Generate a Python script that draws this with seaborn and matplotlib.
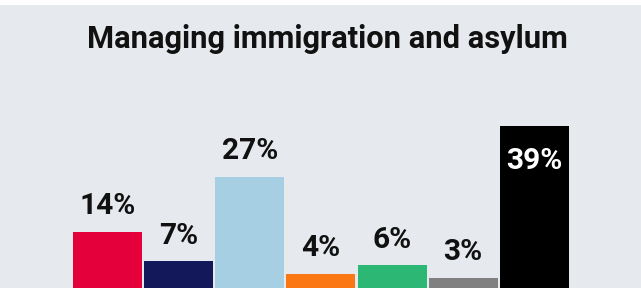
import matplotlib
matplotlib.use("Agg")
import matplotlib.pyplot as plt
import seaborn as sns
import pandas as pd
from matplotlib.patches import Rectangle

title = "Managing immigration and asylum"
categories = ["A", "B", "C", "D", "E", "F", "G"]
values = [14, 7, 27, 4, 6, 3, 39]
labels = ["14%", "7%", "27%", "4%", "6%", "3%", "39%"]
colors = ["#e4003b", "#12185a", "#a7cfe3", "#fa7714", "#2db774", "#808080", "#000000"]

bg = "#e6e9ee"
sns.set_theme(style="white")
plt.rcParams["font.family"] = ["Roboto", "DejaVu Sans"]

W, H = 641, 288
fig = plt.figure(figsize=(W / 100, H / 100), dpi=100, facecolor=bg)
fig.patches.append(Rectangle((0, 1 - 5 / H), 1, 5 / H, transform=fig.transFigure,
                             facecolor="white", edgecolor="none", zorder=-1))

ax_left = 71.9 / W
ax_w = 498 / W
ax_bottom = -2.7 / H
ax_h = 60 * 4.22 / H
ax = fig.add_axes([ax_left, ax_bottom, ax_w, ax_h])
ax.set_facecolor(bg)

df = pd.DataFrame({"cat": categories, "val": values})
sns.barplot(data=df, x="cat", y="val", hue="cat", palette=colors, legend=False,
            width=0.97, linewidth=0, saturation=1, ax=ax)
ax.set_xlim(-0.5, 6.5)
ax.set_ylim(0, 60)
ax.axis("off")

for i, (v, lab) in enumerate(zip(values, labels)):
    if i == len(values) - 1:
        ax.annotate(lab, (i, v), xytext=(0, -31.2), textcoords="offset points",
                    ha="center", va="baseline", fontsize=21.5, fontweight="bold", color="white")
    else:
        ax.annotate(lab, (i, v), xytext=(0, 12.7), textcoords="offset points",
                    ha="center", va="baseline", fontsize=21.5, fontweight="bold", color="#111111")

fig.text(327 / W, 1 - 48.3 / H, title, ha="center", va="baseline", fontsize=22.2,
         fontweight="bold", color="#111111")

fig.savefig("out.png", dpi=100, facecolor=bg)
